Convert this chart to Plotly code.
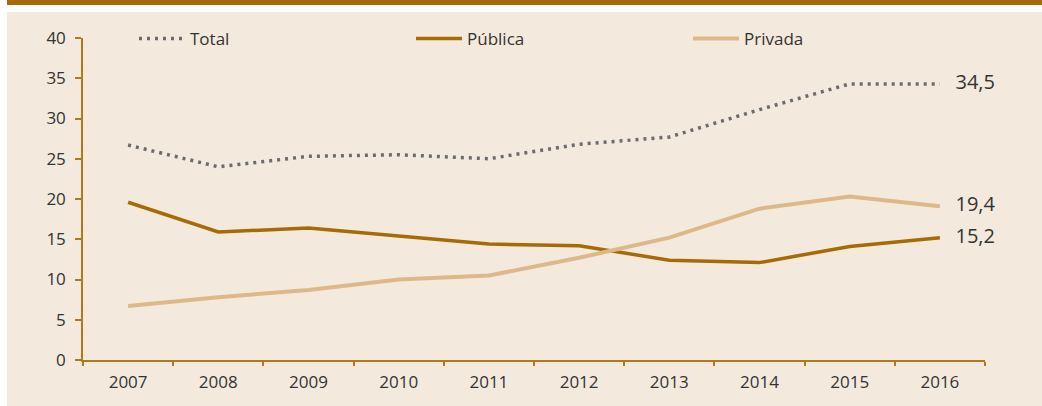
import plotly.graph_objects as go

years = ["2007", "2008", "2009", "2010", "2011", "2012", "2013", "2014", "2015", "2016"]
total = [26.7, 24.0, 25.3, 25.5, 25.0, 26.8, 27.7, 31.1, 34.3, 34.3]
publica = [19.6, 15.9, 16.4, 15.4, 14.4, 14.2, 12.4, 12.1, 14.1, 15.2]
privada = [6.7, 7.8, 8.7, 10.0, 10.5, 12.7, 15.2, 18.8, 20.3, 19.1]
end_labels = ["34,5", "19,4", "15,2"]
y_ticks = [0, 5, 10, 15, 20, 25, 30, 35, 40]

BEIGE = "#F3EADD"
GOLD = "#A66B06"
AXIS = "#B07A1A"
TAN = "#DDB98A"
GREY = "#6B6B70"
TEXT = "#333333"
FONT = "Open Sans"

W, H = 1042, 406
L, R, T, B = 83, 57, 38, 46
pw, ph = W - L - R, H - T - B


def px_x(p):
    return (p - L) / pw


def px_y(p):
    return (H - B - p) / ph


fig = go.Figure()
fig.add_trace(go.Scatter(x=years, y=total, name="Total", mode="lines",
                         line=dict(color=GREY, width=3.5, dash="3px,5px")))
fig.add_trace(go.Scatter(x=years, y=publica, name="Pública", mode="lines",
                         line=dict(color=GOLD, width=3.5)))
fig.add_trace(go.Scatter(x=years, y=privada, name="Privada", mode="lines",
                         line=dict(color=TAN, width=4)))

# end-of-line value labels
fig.add_trace(go.Scatter(
    x=[years[-1]] * 3, y=[total[-1], privada[-1], publica[-1]],
    text=["   " + t for t in end_labels], mode="text", textposition="middle right",
    textfont=dict(size=20, color=TEXT, family=FONT),
    showlegend=False, hoverinfo="skip", cliponaxis=False))

# page background + top band
fig.add_shape(type="rect", xref="paper", yref="paper", layer="below",
              x0=px_x(7), x1=px_x(W + 5), y0=px_y(H + 5), y1=px_y(12),
              fillcolor=BEIGE, line=dict(width=0))
fig.add_shape(type="rect", xref="paper", yref="paper", layer="below",
              x0=px_x(7), x1=px_x(W + 5), y0=px_y(5), y1=px_y(-5),
              fillcolor=GOLD, line=dict(width=0))

fig.update_layout(
    width=W, height=H,
    margin=dict(l=L, r=R, t=T, b=B),
    paper_bgcolor="white",
    plot_bgcolor="rgba(0,0,0,0)",
    font=dict(family=FONT, size=17, color=TEXT),
    showlegend=True,
    legend=dict(orientation="h", x=px_x(134), y=px_y(39), xanchor="left", yanchor="middle",
                entrywidth=216, entrywidthmode="pixels", itemwidth=46,
                bgcolor="rgba(0,0,0,0)", font=dict(size=17, color=TEXT, family=FONT)),
    xaxis=dict(type="category", tickson="boundaries", ticks="outside", ticklen=4,
               tickcolor=AXIS, tickwidth=1.5, showline=True, linecolor=AXIS, linewidth=1.5,
               showgrid=False, zeroline=False, range=[-0.5, 9.5], ticklabelstandoff=6,
               tickfont=dict(size=17, color=TEXT)),
    yaxis=dict(range=[0, 40], tickvals=y_ticks, ticks="outside", ticklen=6,
               tickcolor=AXIS, tickwidth=1.5, showline=True, linecolor=AXIS, linewidth=1.5,
               showgrid=False, zeroline=False, ticklabelstandoff=6,
               tickfont=dict(size=17, color=TEXT)),
)

fig.write_html("out.html")
